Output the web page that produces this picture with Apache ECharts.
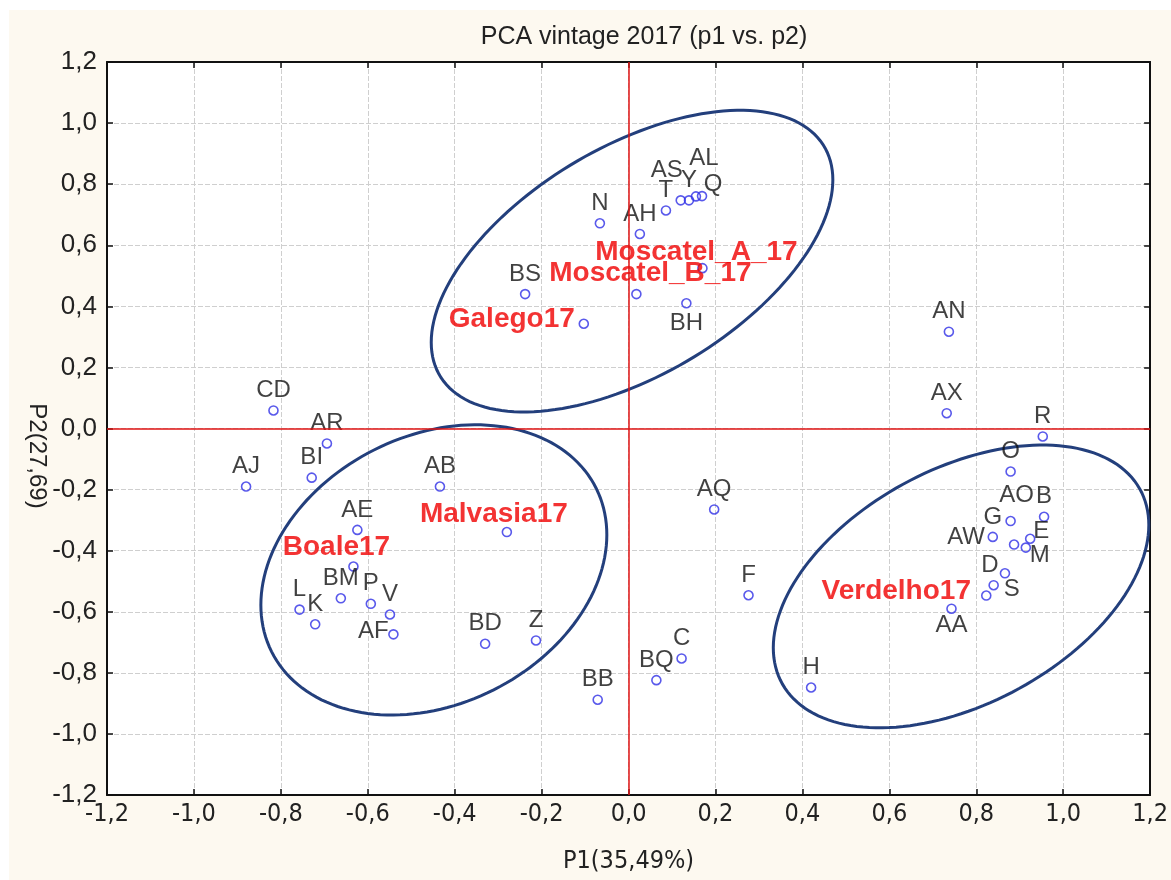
<!DOCTYPE html>
<html>
<head>
<meta charset="utf-8">
<title>PCA vintage 2017</title>
<script src="https://cdn.jsdelivr.net/npm/echarts@6/dist/echarts.min.js"></script>
<style>
  html, body { margin: 0; padding: 0; background: #fff; }
  #main {
    width: 1171px;
    height: 880px;
    background:
      linear-gradient(#fff, #fff) 0 0 / 100% 10px no-repeat,
      linear-gradient(#fff, #fff) 0 0 / 9px 100% no-repeat,
      #fdf9f0;
  }
</style>
</head>
<body>
<div id="main"></div>
<script>
// sample scores on P1 / P2
const names = [
  "N", "AH", "T", "AS", "Y", "AL", "Q", "BS", "BH", "AN", "AX",
  "CD", "AR", "BI", "AJ", "AB", "AE", "BM", "P", "L", "V", "K", "AF", "BD", "Z",
  "BB", "BQ", "C", "F", "AQ", "H",
  "R", "O", "B", "AO", "G", "AW", "E", "M", "D", "S", "AA",
  "Moscatel_A_17", "Moscatel_B_17", "Galego17", "Malvasia17", "Boale17", "Verdelho17"
];
const p1 = [
  -0.066, 0.026, 0.086, 0.120, 0.139, 0.155, 0.169, -0.238, 0.133, 0.737, 0.732,
  -0.817, -0.694, -0.729, -0.880, -0.434, -0.624, -0.662, -0.593, -0.757, -0.549, -0.721, -0.541, -0.330, -0.213,
  -0.071, 0.064, 0.122, 0.276, 0.197, 0.420,
  0.953, 0.879, 0.956, 0.879, 0.838, 0.887, 0.924, 0.914, 0.866, 0.840, 0.743,
  0.170, 0.018, -0.103, -0.280, -0.633, 0.823
];
const p2 = [
  0.672, 0.637, 0.714, 0.747, 0.747, 0.760, 0.761, 0.440, 0.410, 0.317, 0.050,
  0.059, -0.049, -0.161, -0.190, -0.190, -0.332, -0.556, -0.574, -0.593, -0.609, -0.641, -0.674, -0.705, -0.694,
  -0.888, -0.824, -0.753, -0.546, -0.265, -0.848,
  -0.026, -0.141, -0.289, -0.303, -0.355, -0.380, -0.361, -0.390, -0.474, -0.513, -0.590,
  0.525, 0.440, 0.343, -0.339, -0.452, -0.547
];
// reference wines, written in red
const varieties = ["Moscatel_A_17", "Moscatel_B_17", "Galego17", "Malvasia17", "Boale17", "Verdelho17"];

// group ellipses: centre, half width, rise of the right end, half vertical chord
const ellCx = [0.008, -0.448, 0.765];
const ellCy = [0.548, -0.463, -0.517];
const ellW = [0.462, 0.398, 0.432];
const ellK = [0.266, 0.115, 0.201];
const ellH = [0.416, 0.461, 0.417];

// where the label text sits relative to its point (px), default is just above
const labelShift = {
  AS: [-14, -30], AL: [8, -38], Q: [11, -12], BH: [0, 20],
  AO: [6, -26], AW: [-48, -7], E: [11, -7], M: [14, 8], D: [-15, -8], S: [18, 4], AA: [0, 17],
  AF: [-20, -3],
  Moscatel_A_17: [-6, -16], Moscatel_B_17: [14, -21], Galego17: [-72, -4],
  Malvasia17: [-13, -18], Boale17: [-17, -19], Verdelho17: [-90, -4]
};

const font = "'Liberation Sans', Arial, sans-serif";
const narrow = "'Liberation Sans Narrow', 'DejaVu Sans Condensed', Arial, sans-serif";

function comma(v) {
  let r = Math.round(v * 10) / 10;
  if (r === 0) r = 0;
  return r.toFixed(1).replace(".", ",");
}

const points = names.map((n, i) => {
  const red = varieties.indexOf(n) >= 0;
  return {
    name: n,
    value: [p1[i], p2[i]],
    label: {
      offset: labelShift[n] || [0, -20],
      color: red ? "#f00000" : "#111",
      fontWeight: red ? "bold" : "normal",
      fontSize: red ? 28 : 24,
    },
  };
});

const ellipses = ellCx.map((c, i) => [c, ellCy[i], ellW[i], ellK[i], ellH[i]]);

const chart = echarts.init(document.getElementById("main"));

const frame = { show: true, onZero: false, lineStyle: { color: "#111", width: 2 } };
const ticks = { show: true, inside: true, length: 6, lineStyle: { color: "#111", width: 1.5 } };
const grid = { show: true, lineStyle: { color: "#cfcfcf", width: 1, type: [5, 2] } };

chart.setOption({
  animation: false,
  title: {
    text: "PCA vintage 2017 (p1 vs. p2)",
    left: 639,
    top: 20,
    textAlign: "center",
    textStyle: { fontFamily: font, fontSize: 25, fontWeight: "normal", color: "#222" },
  },
  graphic: [
    {
      type: "text",
      x: 37,
      y: 456,
      rotation: -Math.PI / 2,
      style: {
        text: "P2(27,69)",
        font: "24px " + font,
        fill: "#222",
        align: "center",
        verticalAlign: "middle",
      },
    },
  ],
  grid: { left: 107, top: 62, width: 1044, height: 733, show: true, backgroundColor: "#fff", borderWidth: 0 },
  xAxis: [
    {
      type: "value",
      min: -1.2,
      max: 1.2,
      interval: 0.2,
      axisLine: frame,
      axisTick: ticks,
      splitLine: grid,
      axisLabel: { formatter: comma, fontFamily: narrow, fontSize: 25, color: "#222", margin: 7 },
      name: "P1(35,49%)",
      nameLocation: "middle",
      nameGap: 54,
      nameTextStyle: { fontFamily: narrow, fontSize: 25, color: "#222" },
    },
    {
      type: "value",
      position: "top",
      min: -1.2,
      max: 1.2,
      interval: 0.2,
      axisLine: frame,
      axisTick: ticks,
      splitLine: { show: false },
      axisLabel: { show: false },
    },
  ],
  yAxis: [
    {
      type: "value",
      min: -1.2,
      max: 1.2,
      interval: 0.2,
      axisLine: frame,
      axisTick: ticks,
      splitLine: grid,
      axisLabel: { formatter: comma, fontFamily: font, fontSize: 26, color: "#222", margin: 10 },
    },
    {
      type: "value",
      position: "right",
      min: -1.2,
      max: 1.2,
      interval: 0.2,
      axisLine: frame,
      axisTick: ticks,
      splitLine: { show: false },
      axisLabel: { show: false },
    },
  ],
  series: [
    {
      type: "custom",
      coordinateSystem: "cartesian2d",
      encode: { x: 0, y: 1 },
      data: ellipses,
      silent: true,
      z: 3,
      renderItem: function (params, api) {
        const cx = api.value(0), cy = api.value(1);
        const w = api.value(2), k = api.value(3), h = api.value(4);
        const pts = [];
        for (let i = 0; i < 160; i++) {
          const t = (i / 160) * Math.PI * 2;
          pts.push(api.coord([cx + w * Math.cos(t), cy + k * Math.cos(t) + h * Math.sin(t)]));
        }
        return {
          type: "polygon",
          shape: { points: pts },
          style: { fill: "none", stroke: "#233f7c", lineWidth: 3 },
        };
      },
    },
    {
      type: "scatter",
      data: points,
      symbol: "circle",
      symbolSize: 9,
      z: 4,
      itemStyle: { color: "rgba(0,0,0,0)", borderColor: "#3030e6", borderWidth: 1.6 },
      label: {
        show: true,
        position: "inside",
        formatter: "{b}",
        fontFamily: font,
        textBorderWidth: 0,
        textBorderColor: "transparent",
      },
      markLine: {
        silent: true,
        symbol: ["none", "none"],
        label: { show: false },
        lineStyle: { color: "#e01515", width: 1.5, type: "solid" },
        data: [{ xAxis: 0 }, { yAxis: 0 }],
      },
    },
  ],
});
</script>
</body>
</html>
